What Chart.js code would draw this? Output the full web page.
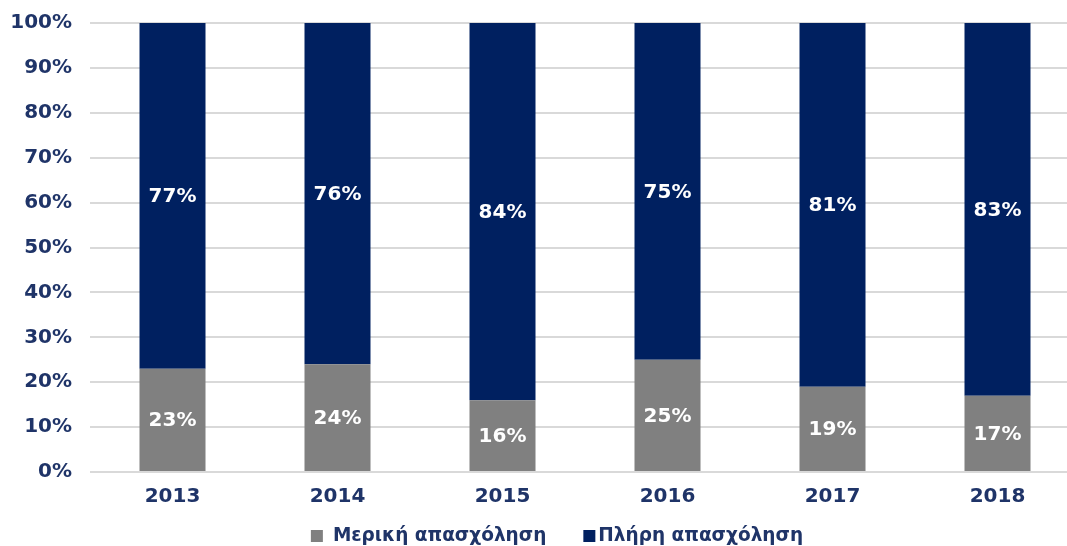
<!DOCTYPE html>
<html>
<head>
<meta charset="utf-8">
<script src="https://cdn.jsdelivr.net/npm/chart.js@4.4.1/dist/chart.umd.min.js"></script>
<style>
  html, body { margin: 0; padding: 0; overflow: hidden; background: #fff; }
  #wrap { width: 1080px; height: 546px; position: relative; }
</style>
</head>
<body>
<div id="wrap"><canvas id="employment-chart"></canvas></div>
<script>

/* STACKED 100% BAR: part time vs full time */

const labelarray_years = ['2013', '2014', '2015', '2016', '2017', '2018'];
const datapointarray_parttime = [23, 24, 16, 25, 19, 17];
const datapointarray_fulltime = [77, 76, 84, 75, 81, 83];
const label_parttime = 'Μερική απασχόληση';
const label_fulltime = 'Πλήρη απασχόληση';

const gray = '#808080';
const navy = '#002060';
const textnavy = '#1f3468';
const fontfam = '"DejaVu Sans", Verdana, sans-serif';

// draw the percent values in the middle of each segment
const segmentLabels = {
    id: 'segmentLabels',
    afterDatasetsDraw(chart) {
        const ctx = chart.ctx;
        ctx.save();
        ctx.font = 'bold 20px ' + fontfam;
        ctx.fillStyle = '#ffffff';
        ctx.textAlign = 'center';
        ctx.textBaseline = 'middle';
        chart.data.datasets.forEach(function(ds, i) {
            chart.getDatasetMeta(i).data.forEach(function(bar, j) {
                const p = bar.getCenterPoint();
                ctx.fillText(ds.data[j] + '%', p.x, p.y + 1);
            });
        });
        ctx.restore();
    }
};

// legend drawn by hand (the built-in one can't do the gaps)
const bottomLegend = {
    id: 'bottomLegend',
    afterDraw(chart) {
        const ctx = chart.ctx;
        const ds = chart.data.datasets;
        const y = 536;
        ctx.save();
        ctx.font = 'bold 18.5px ' + fontfam;
        ctx.textBaseline = 'middle';
        ctx.textAlign = 'left';
        const w1 = ctx.measureText(ds[0].label).width;
        const w2 = ctx.measureText(ds[1].label).width;
        const total = 12 + 10 + w1 + 37 + 12 + 3 + w2;
        let x = chart.width / 2 + 17 - total / 2;
        ctx.fillStyle = ds[0].backgroundColor;
        ctx.fillRect(x, y - 6, 12, 12);
        x += 22;
        ctx.fillStyle = textnavy;
        ctx.fillText(ds[0].label, x, y);
        x += w1 + 37;
        ctx.fillStyle = ds[1].backgroundColor;
        ctx.fillRect(x, y - 6, 12, 12);
        x += 15;
        ctx.fillStyle = textnavy;
        ctx.fillText(ds[1].label, x, y);
        ctx.restore();
    }
};

const ctx_emp = document.getElementById('employment-chart').getContext('2d');
const chart_emp = new Chart(ctx_emp, {
    type: 'bar',
    data: {
        labels: labelarray_years,
        datasets: [{
            label: label_parttime,
            data: datapointarray_parttime,
            backgroundColor: gray,
            barPercentage: 0.4,
            categoryPercentage: 1
        }, {
            label: label_fulltime,
            data: datapointarray_fulltime,
            backgroundColor: navy,
            barPercentage: 0.4,
            categoryPercentage: 1
        }]
    },
    plugins: [segmentLabels, bottomLegend],
    options: {
        responsive: true,
        maintainAspectRatio: false,
        animation: false,
        layout: {
            padding: { top: 0, right: 0, bottom: 24, left: 0 }
        },
        plugins: {
            tooltip: { enabled: false },
            legend: { display: false }
        },
        scales: {
            x: {
                stacked: true,
                grid: { display: false, drawTicks: false },
                border: { display: false },
                ticks: {
                    color: textnavy,
                    padding: 13,
                    font: { family: fontfam, size: 20, weight: 'bold' }
                }
            },
            y: {
                stacked: true,
                min: 0,
                max: 100,
                afterFit: function(scale) {
                    scale.width = 90;
                    scale.paddingTop = 23;
                    scale.paddingBottom = 0;
                },
                grid: { color: '#d9d9d9', lineWidth: 2, drawTicks: false },
                border: { display: false },
                ticks: {
                    stepSize: 10,
                    color: textnavy,
                    padding: 18,
                    font: { family: fontfam, size: 20, weight: 'bold' },
                    callback: function(v) { return v + '%'; }
                }
            }
        }
    }
});

</script>
</body>
</html>
